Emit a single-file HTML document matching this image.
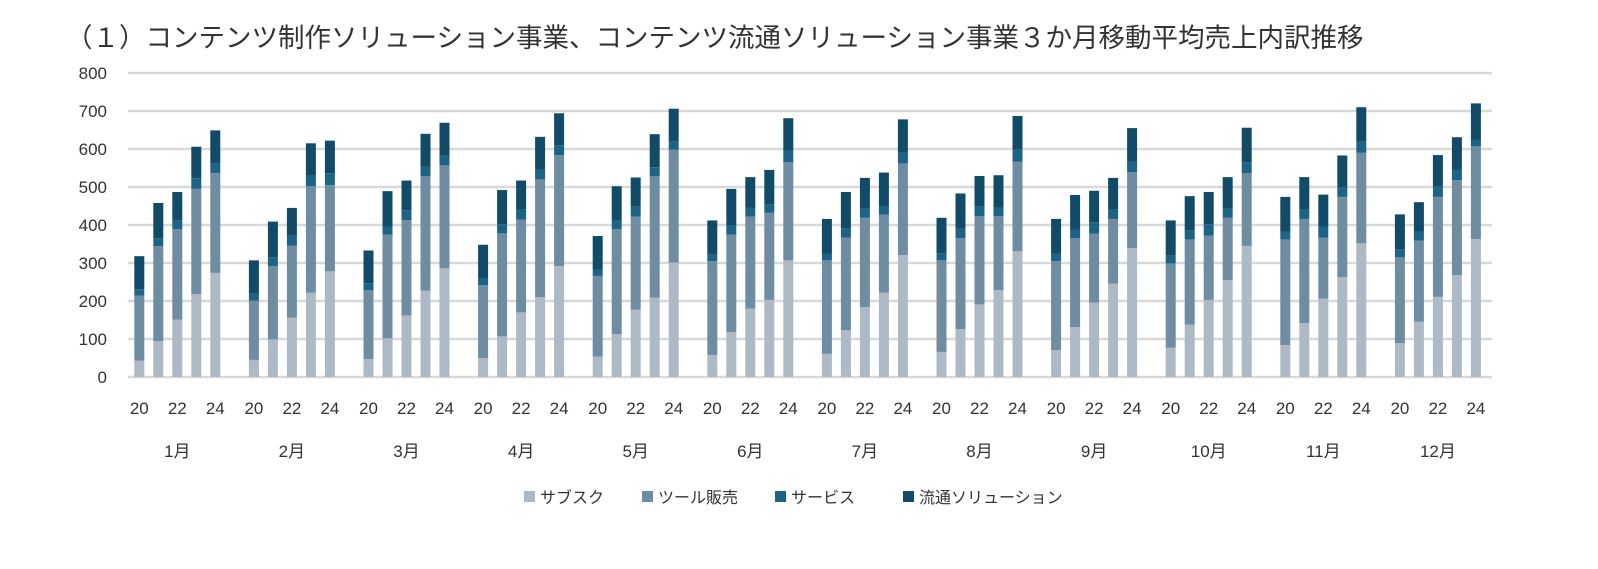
<!DOCTYPE html>
<html><head><meta charset="utf-8"><style>
body{margin:0;background:#fff;width:1598px;height:564px;overflow:hidden;font-family:"Liberation Sans","Noto Sans CJK JP",sans-serif}
</style></head><body>
<svg id="chart" width="1598" height="564" xmlns="http://www.w3.org/2000/svg" font-family="Liberation Sans, Noto Sans CJK JP, sans-serif">
<text x="66" y="47" font-size="26.5" fill="#333">（１）コンテンツ制作ソリューション事業、コンテンツ流通ソリューション事業３か月移動平均売上内訳推移</text>
<g id="grid"></g><g id="bars"></g><g id="xlabels"></g>
<g font-size="16" fill="#333">
<rect x="524" y="491" width="11" height="11" fill="#adb9c4"/><text x="540" y="503">サブスク</text>
<rect x="642" y="491" width="11" height="11" fill="#6e8ca2"/><text x="658" y="503">ツール販売</text>
<rect x="775" y="491" width="11" height="11" fill="#1c6386"/><text x="791" y="503">サービス</text>
<rect x="903" y="491" width="11" height="11" fill="#124b68"/><text x="919" y="503">流通ソリューション</text>
</g>
</svg>
<script>
const months=["1月","2月","3月","4月","5月","6月","7月","8月","9月","10月","11月","12月"];
const years=["20","21","22","23","24"];
const yTicks=[0,100,200,300,400,500,600,700,800];
const subscription=[43,94,151,218,274, 45,99,156,222,278, 47,102,162,227,286, 50,107,170,210,292, 54,113,177,209,301, 58,118,180,203,307, 61,123,184,222,321, 66,126,191,229,331, 71,131,196,246,339, 77,138,203,255,345, 84,142,206,263,352, 89,146,211,268,363];
const toolSales=[171,250,238,277,263, 156,193,190,280,227, 182,273,251,301,271, 192,271,244,310,292, 212,276,245,319,297, 247,257,242,229,258, 246,244,235,205,241, 241,239,232,194,236, 234,234,181,170,200, 222,224,169,164,191, 278,274,161,211,238, 226,213,263,250,244];
const services=[17,21,24,28,26, 19,23,26,28,31, 18,21,26,26,26, 17,24,26,25,26, 17,22,27,24,21, 17,25,24,23,30, 18,24,24,23,28, 19,25,25,22,32, 19,22,30,24,28, 21,23,30,24,29, 21,24,29,26,29, 21,24,27,28,18];
const distribution=[87,93,74,83,86, 87,94,73,85,86, 86,93,78,86,86, 89,90,77,87,84, 88,91,76,87,87, 90,95,80,90,86, 91,96,81,88,88, 93,93,81,86,88, 92,92,83,84,88, 92,91,85,83,91, 91,86,84,83,91, 92,77,83,85,95];
const series=[subscription,toolSales,services,distribution];
const colors=["#adb9c4","#6e8ca2","#1c6386","#124b68"];
const names=["subscription","tool-sales","services","distribution"];
const NS="http://www.w3.org/2000/svg";
const y0=377,yTop=73,vMax=800;
const y=v=>y0-(v/vMax)*(y0-yTop);
const band=114.6,step=19,bw=10,left=120;
const xc=(m,k)=>left+band/2+(k-2)*step+m*band;
const grid=document.getElementById('grid');
yTicks.forEach(t=>{
 const l=document.createElementNS(NS,'line');
 
 
 l.setAttribute('x1',128);l.setAttribute('x2',1492);l.setAttribute('y1',y(t));l.setAttribute('y2',y(t));
 l.setAttribute('stroke','#d9d9d9');l.setAttribute('stroke-width','2.5');grid.appendChild(l);
 const tx=document.createElementNS(NS,'text');
 
 
 tx.setAttribute('x',107);tx.setAttribute('y',y(t)+6);tx.setAttribute('text-anchor','end');
 tx.setAttribute('font-size','17');tx.setAttribute('fill','#333');tx.textContent=t;grid.appendChild(tx);
});
const bars=document.getElementById('bars');
months.forEach((mo,m)=>{years.forEach((yr,k)=>{
 const i=m*5+k;let base=0;
 series.forEach((s,si)=>{
  const v=s[i];const r=document.createElementNS(NS,'rect');
  
  
  r.setAttribute('x',xc(m,k)-bw/2);r.setAttribute('width',bw);
  r.setAttribute('y',y(base+v));r.setAttribute('height',y(base)-y(base+v));
  r.setAttribute('fill',colors[si]);bars.appendChild(r);base+=v;
 });
});});
const xl=document.getElementById('xlabels');
months.forEach((mo,m)=>{
 [0,2,4].forEach(k=>{
  const t=document.createElementNS(NS,'text');
  
  
  t.setAttribute('x',xc(m,k));t.setAttribute('y',414);t.setAttribute('text-anchor','middle');
  t.setAttribute('font-size','17');t.setAttribute('fill','#333');t.textContent=years[k];xl.appendChild(t);
 });
 const t=document.createElementNS(NS,'text');
 
 
 t.setAttribute('x',xc(m,2));t.setAttribute('y',457);t.setAttribute('text-anchor','middle');
 t.setAttribute('font-size','17');t.setAttribute('fill','#333');t.textContent=mo;xl.appendChild(t);
});
</script>
</body></html>
